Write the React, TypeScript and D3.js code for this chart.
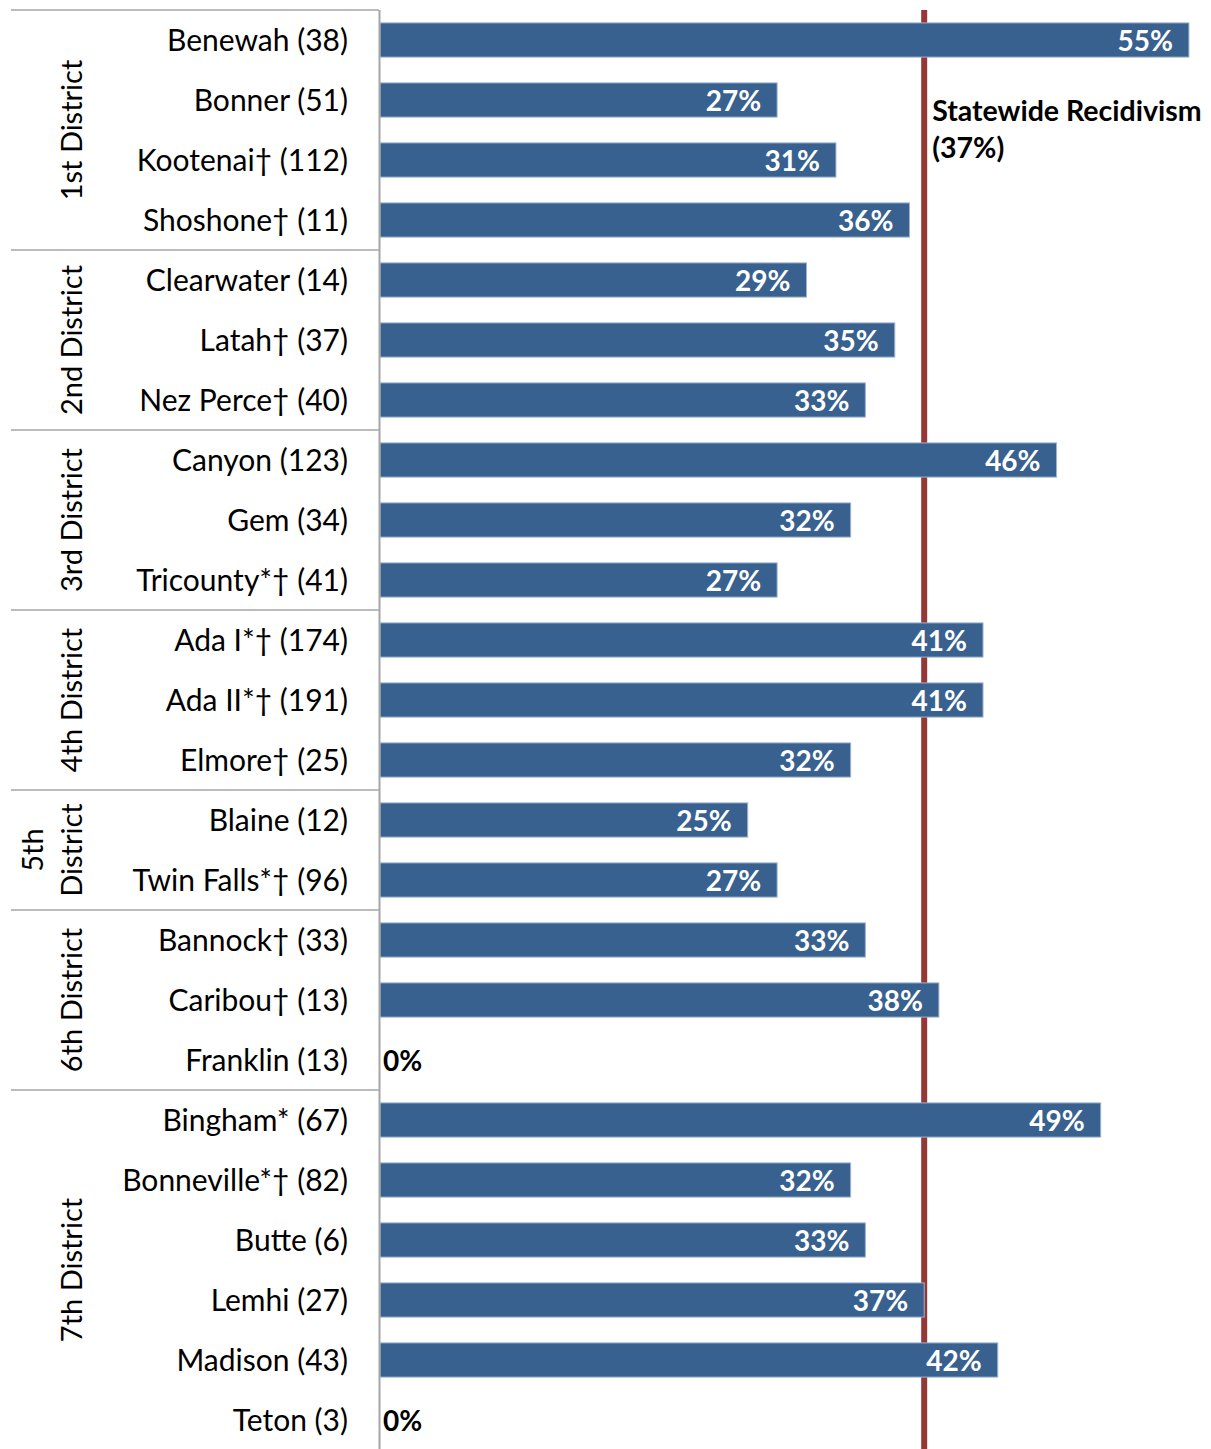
import React from "react";
import * as d3 from "d3";

// Recidivism rate by county, grouped by judicial district.
const counties = [
  "Benewah", "Bonner", "Kootenai†", "Shoshone†",
  "Clearwater", "Latah†", "Nez Perce†",
  "Canyon", "Gem", "Tricounty*†",
  "Ada I*†", "Ada II*†", "Elmore†",
  "Blaine", "Twin Falls*†",
  "Bannock†", "Caribou†", "Franklin",
  "Bingham*", "Bonneville*†", "Butte", "Lemhi", "Madison", "Teton",
];
const sampleSizes = [
  38, 51, 112, 11,
  14, 37, 40,
  123, 34, 41,
  174, 191, 25,
  12, 96,
  33, 13, 13,
  67, 82, 6, 27, 43, 3,
];
const rates = [
  0.55, 0.27, 0.31, 0.36,
  0.29, 0.35, 0.33,
  0.46, 0.32, 0.27,
  0.41, 0.41, 0.32,
  0.25, 0.27,
  0.33, 0.38, 0,
  0.49, 0.32, 0.33, 0.37, 0.42, 0,
];
const districtNames = [
  ["1st District"],
  ["2nd District"],
  ["3rd District"],
  ["4th District"],
  ["5th", "District"],
  ["6th District"],
  ["7th District"],
];
const districtSizes = [4, 3, 3, 3, 2, 3, 6];
const statewideRate = 0.37;

const W = 1211;
const H = 1449;
const FONT = "Lato, 'Open Sans', sans-serif";

export default function App() {
  const x = d3.scaleLinear().domain([0, 0.565]).range([380, W]);
  const y = d3
    .scaleBand<number>()
    .domain(d3.range(counties.length))
    .range([10, 10 + counties.length * 60])
    .paddingInner(0.43)
    .paddingOuter(0.215);
  const step = y.step();
  const top = 10;
  const pct = d3.format(".0%");

  // first row index of each district block
  const starts = districtSizes.map((_, i) => d3.sum(districtSizes.slice(0, i)));

  return (
    <div style={{ position: "absolute", left: 0, top: 0 }}>
      <svg width={W} height={H} style={{ display: "block", background: "#fff" }}>
        {/* district separators */}
        {starts.map((s, i) => (
          <line
            key={"sep" + i}
            x1={11}
            x2={379}
            y1={top + s * step}
            y2={top + s * step}
            stroke="#a6a6a6"
            strokeWidth={1.5}
          />
        ))}
        {/* district labels */}
        {districtNames.map((lines, i) => {
          const cy = top + (starts[i] + districtSizes[i] / 2) * step;
          const baseX = 82;
          const lh = 39;
          return (
            <g key={"dl" + i}>
              {lines.map((t, j) => (
                <text
                  key={j}
                  transform={`translate(${baseX - (lines.length - 1 - j) * lh},${cy}) rotate(-90)`}
                  textAnchor="middle"
                  fontFamily={FONT}
                  fontSize={29}
                  fill="#000"
                >
                  {t}
                </text>
              ))}
            </g>
          );
        })}
        {/* county labels */}
        {counties.map((c, i) => (
          <text
            key={"cl" + i}
            x={348}
            y={(y(i) as number) + y.bandwidth() / 2 + 10.5}
            textAnchor="end"
            fontFamily={FONT}
            fontSize={30}
            fill="#000"
          >
            {`${c} (${sampleSizes[i]})`}
          </text>
        ))}
        {/* statewide reference line, behind the bars */}
        <line
          x1={x(statewideRate)}
          x2={x(statewideRate)}
          y1={top}
          y2={H}
          stroke="#953735"
          strokeWidth={6}
        />
        {/* bars */}
        {rates.map((r, i) =>
          r > 0 ? (
            <rect
              key={"b" + i}
              x={x(0)}
              y={y(i)}
              width={x(r) - x(0)}
              height={y.bandwidth()}
              fill="#386190"
              stroke="#9fb4d0"
              strokeWidth={1}
            />
          ) : null
        )}
        {/* value labels */}
        {rates.map((r, i) => (
          <text
            key={"v" + i}
            x={r > 0 ? x(r) - 16 : x(0) + 3}
            y={(y(i) as number) + y.bandwidth() / 2 + 10.5}
            textAnchor={r > 0 ? "end" : "start"}
            fontFamily={FONT}
            fontWeight="bold"
            fontSize={28}
            fill={r > 0 ? "#fff" : "#000"}
          >
            {pct(r)}
          </text>
        ))}
        {/* vertical axis */}
        <line x1={379.5} x2={379.5} y1={top} y2={H} stroke="#a6a6a6" strokeWidth={2} />
        <text
          y={121}
          fontFamily={FONT}
          fontWeight="bold"
          fontSize={28.5}
          fill="#000"
        >
          <tspan x={x(statewideRate) + 8}>Statewide Recidivism</tspan>
          <tspan x={x(statewideRate) + 8} dy={37}>
            {`(${pct(statewideRate)})`}
          </tspan>
        </text>
      </svg>
    </div>
  );
}
